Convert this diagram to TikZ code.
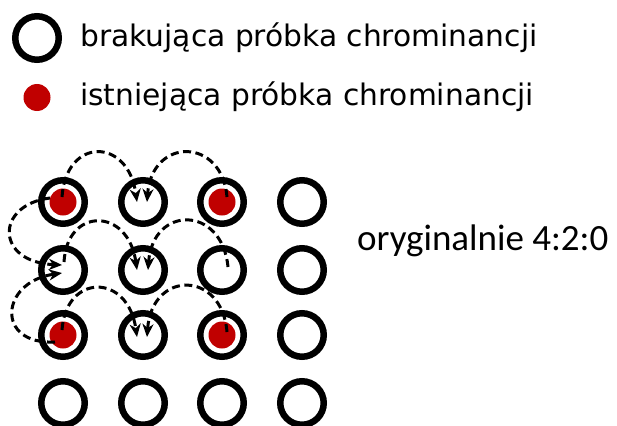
\documentclass[tikz,border=0pt]{standalone}
\usepackage{fontspec}
\setmainfont{DejaVu Sans}
\newfontfamily\calfont{Carlito}
\usetikzlibrary{arrows.meta,calc}
\definecolor{dotred}{HTML}{C00000}
\begin{document}
\begin{tikzpicture}[x=1pt,y=-1pt,
  ring/.style={circle,draw=black,line width=6.5pt,minimum size=43.5pt,inner sep=0pt},
  dot/.style={circle,fill=dotred,draw=none,minimum size=27pt,inner sep=0pt},
  lbl/.style={inner sep=0pt,anchor=base west,font=\fontsize{29.7}{36}\selectfont},
  flow/.style={line width=3pt,dash pattern=on 8pt off 4.5pt,-{Stealth[length=13pt,width=11pt,inset=4pt]}}
]
\useasboundingbox (0,0) rectangle (617,425);
% legend
\node[ring] (lr) at (37,38) {};
\node[dot] (ld) at (37,97.5) {};
\node[lbl] (t1) at (80,47) {brakująca próbka chrominancji};
\node[lbl] (t2) at (80,106) {istniejąca próbka chrominancji};
\node[inner sep=0pt,anchor=base west,font=\calfont\fontsize{37}{44}\selectfont] (t3) at (357,250) {oryginalnie 4:2:0};
% red dots
\node[dot] (d11) at (63,202) {};
\node[dot] (d13) at (222,202) {};
\node[dot] (d31) at (63,335) {};
\node[dot] (d33) at (222,335) {};
% rings
\foreach \r/\y in {1/202,2/270,3/335,4/403}{
  \foreach \c/\x in {1/63,2/143,3/222,4/302}{
    \node[ring] (c\r\c) at (\x,\y) {};
  }
}
% arrows
\draw[flow] ($(c11)+(-1,-5)$) .. controls +(4,-60) and +(-9,-65) .. ($(c12)+(-6,0)$);
\draw[flow] ($(c13)+(5,-5)$) .. controls +(-5,-60) and +(5,-65) .. ($(c12)+(4,0)$);
\draw[flow] ($(c11)+(-13,-4)$) .. controls +(-55,7) and +(-67,-3) .. ($(c21)+(-1,-5)$);
\draw[flow] ($(c31)+(-8,7)$) .. controls +(-60,3) and +(-62,9) .. ($(c21)+(-1,3)$);
\draw[flow] ($(c21)+(1,-8)$) .. controls +(3,-55) and +(-9,-63) .. ($(c22)+(-6,0)$);
\draw[flow] ($(c23)+(6,-3)$) .. controls +(-6,-62) and +(5,-65) .. ($(c22)+(5,0)$);
\draw[flow] ($(c31)+(-1,-5)$) .. controls +(4,-57) and +(-9,-64) .. ($(c32)+(-6,2)$);
\draw[flow] ($(c33)+(5,-3)$) .. controls +(-5,-62) and +(5,-67) .. ($(c32)+(4,2)$);
\end{tikzpicture}
\end{document}
